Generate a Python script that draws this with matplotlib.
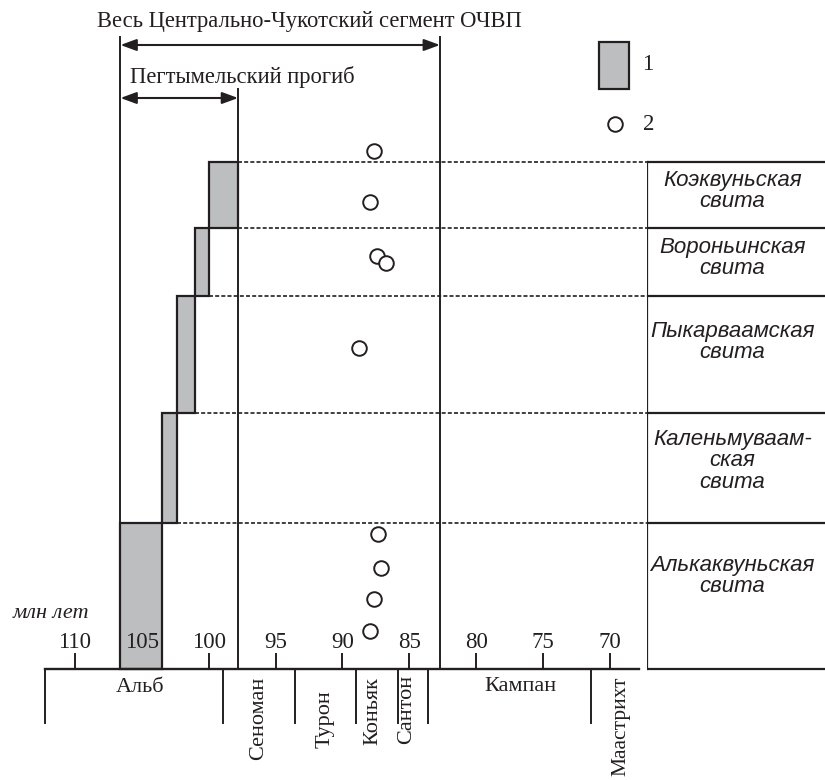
import numpy as np
import matplotlib.pyplot as plt
from matplotlib.patches import Rectangle
from matplotlib.lines import Line2D

# --- data (ages in Ma, vertical levels in arbitrary section units) ---
tick_ages = [110, 105, 100, 95, 90, 85, 80, 75, 70]

stage_names = ['Альб', 'Сеноман', 'Турон', 'Коньяк', 'Сантон', 'Кампан', 'Маастрихт']
stage_bounds = [112.24, 98.95, 93.55, 88.98, 85.82, 83.58, 71.43, 67.8]

# formations, bottom to top
form_names = ['Алькаквуньская\nсвита', 'Каленьмуваам-\nская\nсвита',
              'Пыкарваамская\nсвита', 'Вороньинская\nсвита', 'Коэквуньская\nсвита']
form_bottom = [0, 146, 256, 373, 441]
form_top = [146, 256, 373, 441, 507]
form_age_old = [106.6, 103.5, 102.4, 101.0, 100.0]
form_age_young = [103.5, 102.4, 101.0, 100.0, 97.8]

# dated samples (2)
sample_age = [87.64, 87.91, 87.39, 86.76, 88.74, 87.31, 87.11, 87.64, 87.96]
sample_level = [518, 467, 413, 406, 321, 135, 101, 70, 38]

segment_whole = (106.6, 82.7)   # Весь Центрально-Чукотский сегмент ОЧВП
segment_pegt = (106.6, 97.8)    # Пегтымельский прогиб

ink = '#231f20'
gray = '#bcbec0'
serif = 'Liberation Serif'
sans = 'Liberation Sans'

fig = plt.figure(figsize=(8.25, 7.8), dpi=100)
ax = fig.add_axes([0, 0, 1, 1])
ax.set_xlim(115.61, 53.90)
ax.set_ylim(-111, 669)
ax.axis('off')

table_age = 67.2
x_tab = ax.transData.transform((table_age, 0))[0] / fig.bbox.width

# bars
for a0, a1, b, t in zip(form_age_old, form_age_young, form_bottom, form_top):
    ax.add_patch(Rectangle((a1, b), a0 - a1, t - b, fc=gray, ec=ink, lw=1.6, zorder=3))

# dashed formation boundaries
n = len(form_top)
for i, t in enumerate(form_top):
    start = form_age_young[i + 1] if i + 1 < n else form_age_young[i]
    start = min(start, form_age_young[i])
    ax.plot([start, table_age], [t, t], color=ink, lw=1.2, ls=(0, (2.4, 1.3)), zorder=2)

# segment verticals
top_whole = 632
top_pegt = 580
ax.plot([segment_whole[0]] * 2, [0, top_whole], color=ink, lw=1.4)
ax.plot([segment_whole[1]] * 2, [0, top_whole], color=ink, lw=1.4)
ax.plot([segment_pegt[1]] * 2, [0, top_pegt], color=ink, lw=1.4)

arrow = dict(arrowstyle='<|-|>,head_length=0.6,head_width=0.22', color=ink, lw=1.5,
             shrinkA=0, shrinkB=0, mutation_scale=16)
ax.annotate('', xy=(segment_whole[0], 624), xytext=(segment_whole[1], 624), arrowprops=arrow)
ax.annotate('', xy=(segment_pegt[0], 571), xytext=(segment_pegt[1], 571), arrowprops=arrow)
ax.text(108.38, 642.3, 'Весь Центрально-Чукотский сегмент ОЧВП', family=serif,
        fontsize=16.3, ha='left', va='baseline', color=ink)
ax.text(105.9, 585.7, 'Пегтымельский прогиб', family=serif,
        fontsize=16.3, ha='left', va='baseline', color=ink)

# samples
ax.plot(sample_age, sample_level, 'o', ms=10.5, mfc='white', mec=ink, mew=1.4, zorder=4)

# time axis
ax.plot([stage_bounds[0], stage_bounds[-1]], [0, 0], color=ink, lw=1.7, zorder=5)
for a in tick_ages:
    ax.plot([a, a], [0, 15], color=ink, lw=1.4)
    ax.text(a, 27, str(a), family=serif, fontsize=16.5, ha='center', va='center', color=ink)
ax.text(111.8, 56, 'млн лет', family=serif, style='italic', fontsize=16,
        ha='center', va='center', color=ink)

for b in stage_bounds[:-1]:
    ax.plot([b, b], [0, -54], color=ink, lw=1.4)

stage_label_x = [105.13, 96.3, 91.3, 87.69, 85.19, 76.7, 69.19]
stage_label_y = [-18.7, -7.7, -21, -7.7, -6, -17.7, -8]
stage_rot = [0, 90, 90, 90, 90, 0, 90]
for name, x, y, r in zip(stage_names, stage_label_x, stage_label_y, stage_rot):
    if r:
        fs = 15.5 if name == 'Маастрихт' else 16
        ax.text(x, y, name, family=serif, fontsize=fs, rotation=90, ha='center', va='top', color=ink)
    else:
        ax.text(x, y, name, family=serif, fontsize=16, ha='center', va='center', color=ink)

# formation table
ax2 = fig.add_axes([x_tab, 0, 1 - x_tab, 1], sharey=ax)
ax2.set_xlim(0, 1)
ax2.axis('off')
ax2.plot([0, 0], [0, form_top[-1]], color=ink, lw=1.6)
for y in [0] + form_top:
    ax2.plot([0, 1], [y, y], color=ink, lw=1.6)
label_level = [93, 208, 326.5, 411.5, 478]
for name, y in zip(form_names, label_level):
    ax2.text(0.48, y, name, family=sans, style='italic', fontsize=16, ha='center',
             va='center', linespacing=1.0, color=ink)

# legend
fig.patches.append(Rectangle((599 / 825, 1 - 89.3 / 780), 30.3 / 825, 47 / 780,
                             transform=fig.transFigure, fc=gray, ec=ink, lw=1.6))
fig.text(648 / 825, 1 - 65 / 780, '1', family=serif, fontsize=16.5, ha='center', va='center', color=ink)
fig.lines.append(Line2D([615 / 825], [1 - 124.3 / 780], marker='o', ms=10.5, mfc='white',
                        mec=ink, mew=1.4, transform=fig.transFigure))
fig.text(649 / 825, 1 - 124 / 780, '2', family=serif, fontsize=16.5, ha='center', va='center', color=ink)

fig.savefig('out.png', dpi=100, facecolor='white')
